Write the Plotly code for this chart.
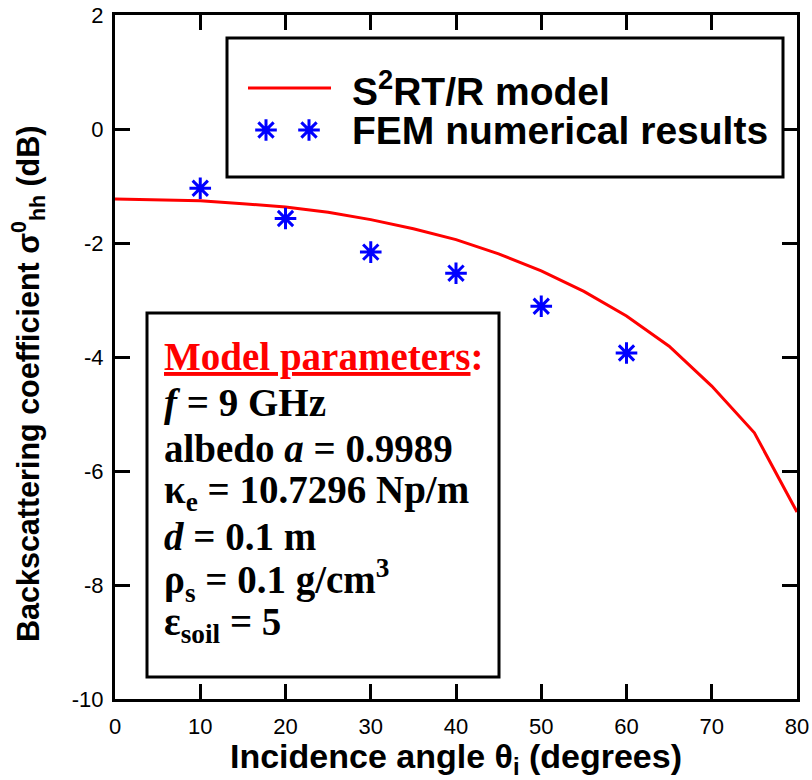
import plotly.graph_objects as go

# S2RT/R model curve (dB) versus incidence angle (deg)
model_angle = [0, 5, 10, 15, 20, 25, 30, 35, 40, 45, 50, 55, 60, 65, 70, 75, 80]
model_db = [-1.23, -1.24, -1.26, -1.31, -1.37, -1.46, -1.59, -1.75, -1.94,
            -2.19, -2.49, -2.85, -3.28, -3.81, -4.51, -5.33, -6.72]

# FEM numerical results
fem_angle = [10, 20, 30, 40, 50, 60]
fem_db = [-1.04, -1.57, -2.16, -2.53, -3.11, -3.93]

x_ticks = [0, 10, 20, 30, 40, 50, 60, 70, 80]
y_ticks = [-10, -8, -6, -4, -2, 0, 2]
y_tick_text = ["-10", "-8", "-6", "-4", "-2", "0", "2"]

x_title = "Incidence angle θ<sub>i</sub> (degrees)"
y_title = "Backscattering coefficient σ<sup>0</sup><sub>hh</sub> (dB)"

legend_labels = ["S<sup>2</sup>RT/R model", "FEM numerical results"]
param_title = "<u>Model parameters</u>:"
param_lines = [
    "<i>f</i> = 9 GHz",
    "albedo <i>a</i> = 0.9989",
    "κ<sub>e</sub> = 10.7296 Np/m",
    "<i>d</i> = 0.1 m",
    "ρ<sub>s</sub> = 0.1 g/cm<sup>3</sup>",
    "ε<sub>soil</sub> = 5",
]

W, H = 812, 780
ML, MR, MT, MB = 115, 15, 15, 81
PW, PH = W - ML - MR, H - MT - MB


def px(x):
    return (x - ML) / PW


def py(y):
    return (H - MB - y) / PH


RED = "#ff0000"
BLUE = "#0000ff"
SANS = "Liberation Sans"
SERIF = "Liberation Serif"

fig = go.Figure()

fig.add_trace(go.Scatter(
    x=model_angle, y=model_db, mode="lines",
    line=dict(color=RED, width=3), showlegend=False,
))
fig.add_trace(go.Scatter(
    x=fem_angle, y=fem_db, mode="markers",
    marker=dict(symbol="asterisk-open", size=18, color=BLUE,
                line=dict(color=BLUE, width=3)),
    showlegend=False,
))

# legend glyphs on an overlay axis spanning the plot area in [0, 1]
fig.add_trace(go.Scatter(
    x=[px(266), px(309)], y=[py(130), py(130)], mode="markers",
    marker=dict(symbol="asterisk-open", size=18, color=BLUE,
                line=dict(color=BLUE, width=3)),
    xaxis="x2", yaxis="y2", showlegend=False, cliponaxis=False,
))

axis_common = dict(
    showline=True, linewidth=3, linecolor="black", mirror="ticks",
    ticks="inside", ticklen=15, tickwidth=3, tickcolor="black",
    showgrid=False, zeroline=False, automargin=False,
    tickfont=dict(family=SANS, size=22, color="black"),
)

fig.update_layout(
    width=W, height=H,
    margin=dict(l=ML, r=MR, t=MT, b=MB, autoexpand=False),
    paper_bgcolor="white", plot_bgcolor="white",
    showlegend=False,
    xaxis=dict(
        range=[0, 80], tickvals=x_ticks, ticklabelstandoff=6,
        title=dict(text=x_title,
                   font=dict(family=SANS, size=34, color="black", weight="bold"),
                   standoff=2),
        **axis_common,
    ),
    yaxis=dict(
        range=[-10, 2], tickvals=y_ticks, ticktext=y_tick_text,
        ticklabelstandoff=4, **axis_common,
    ),
    xaxis2=dict(overlaying="x", range=[0, 1], visible=False),
    yaxis2=dict(overlaying="y", range=[0, 1], visible=False),
)

shapes = [
    # legend frame
    dict(type="rect", xref="paper", yref="paper",
         x0=px(227), x1=px(783), y0=py(177), y1=py(38),
         line=dict(color="black", width=3), layer="above"),
    # legend line sample
    dict(type="line", xref="paper", yref="paper",
         x0=px(248), x1=px(331), y0=py(88), y1=py(88),
         line=dict(color=RED, width=3), layer="above"),
    # parameter box
    dict(type="rect", xref="paper", yref="paper",
         x0=px(147), x1=px(499), y0=py(677), y1=py(313),
         line=dict(color="black", width=3), layer="above"),
]
fig.update_layout(shapes=shapes)

annotations = [dict(
    text=y_title, xref="paper", yref="paper", x=px(28), y=py(384),
    xanchor="center", yanchor="middle", textangle=-90, showarrow=False,
    font=dict(family=SANS, size=30.5, color="black", weight="bold"),
)]
for label, yc in zip(legend_labels, [88, 130]):
    annotations.append(dict(
        text=label, xref="paper", yref="paper", x=px(350), y=py(yc),
        xanchor="left", yanchor="middle", showarrow=False,
        font=dict(family=SANS, size=39, color="black", weight="bold"),
    ))

annotations.append(dict(
    text=param_title, xref="paper", yref="paper", x=px(162), y=py(357),
    xanchor="left", yanchor="middle", showarrow=False,
    font=dict(family=SERIF, size=39, color=RED, weight="bold"),
))
for line, yc in zip(param_lines, [403, 448, 492, 536, 580, 624]):
    annotations.append(dict(
        text=line, xref="paper", yref="paper", x=px(162), y=py(yc),
        xanchor="left", yanchor="middle", showarrow=False,
        font=dict(family=SERIF, size=39, color="black", weight="bold"),
    ))
fig.update_layout(annotations=annotations)

fig.write_html("out.html")
